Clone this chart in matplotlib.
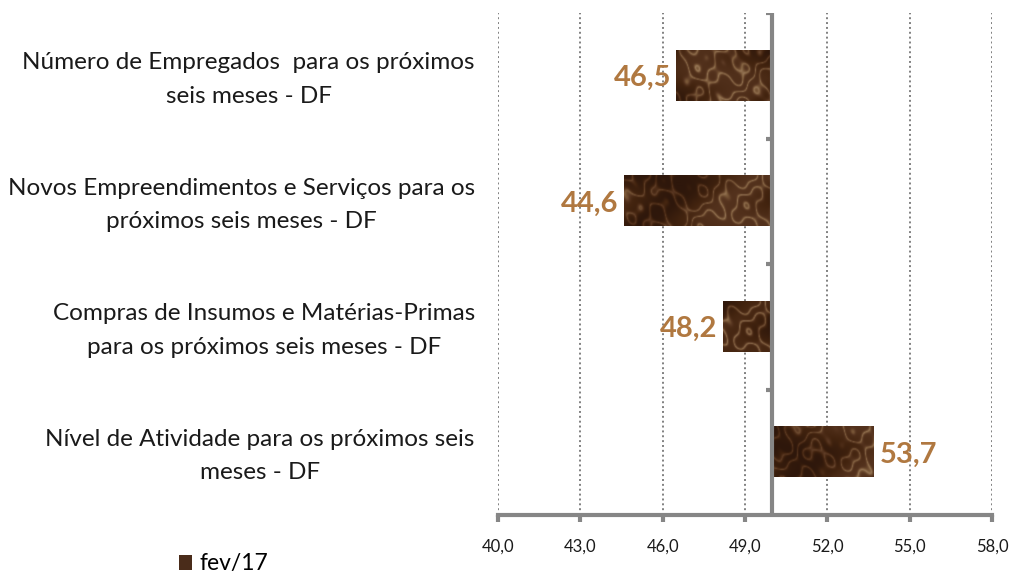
import matplotlib
matplotlib.use("Agg")
import matplotlib.pyplot as plt
import matplotlib.transforms as mtransforms
from matplotlib.patches import Patch
import numpy as np

plt.rcParams['font.family'] = ['Lato', 'DejaVu Sans']

# ---------------- data ----------------
categorias = [
    "Número de Empregados  para os próximos\nseis meses - DF",
    "Novos Empreendimentos e Serviços para os\npróximos seis meses - DF",
    "Compras de Insumos e Matérias-Primas\npara os próximos seis meses - DF",
    "Nível de Atividade para os próximos seis\nmeses - DF",
]
valores = [46.5, 44.6, 48.2, 53.7]
rotulos = ["46,5", "44,6", "48,2", "53,7"]
serie = "fev/17"
base = 50.0
xticks = [40, 43, 46, 49, 52, 55, 58]

cinza = "#868686"
cor_rotulo = "#B07840"
cor_barra = "#4a2c1a"

# textura tipo marmore/madeira (so decoracao, nao e dado)
tx, ty = np.meshgrid(np.linspace(0, 40, 500), np.linspace(0, 4, 50))
turb = (1.5 * np.sin(0.7 * tx + 0.9 * ty) + np.sin(1.3 * tx - 1.1 * ty + 0.5)
        + 0.7 * np.sin(2.3 * tx + 1.7 * ty + 1.2)
        + 0.5 * np.sin(3.7 * tx - 2.9 * ty))
veios = (1 - np.abs(np.sin(0.9 * tx + 0.6 * ty + 1.4 * turb))) ** 2.5
fundo = 0.5 + 0.5 * np.sin(0.45 * tx + 0.8 * np.sin(1.1 * ty + 0.3 * tx))
textura = 0.45 * fundo + 0.55 * veios
textura = (textura - textura.min()) / (textura.max() - textura.min())
cmap_madeira = matplotlib.colors.LinearSegmentedColormap.from_list(
    "madeira", ["#2e170b", "#43240f", "#573520", "#7a5838", "#9c7c5c"])

fig = plt.figure(figsize=(10.13, 5.73), dpi=100)
ax = fig.add_axes([0.4916, 0.1012, 0.4877, 0.876])

ypos = np.arange(len(valores))[::-1]
alt = 0.4
barras = ax.barh(ypos, np.array(valores) - base, left=base, height=alt,
                 color=cor_barra, edgecolor="none", zorder=2)
for i, b in enumerate(barras):
    x0, y0 = b.get_x(), b.get_y()
    w, h = b.get_width(), b.get_height()
    ncol = max(int(abs(w) / 18 * 500), 2)
    off = (i * 97) % (500 - ncol)
    ax.imshow(textura[:, off:off + ncol], cmap=cmap_madeira, aspect="auto",
              zorder=2.5, interpolation="bicubic",
              extent=[min(x0, x0 + w), max(x0, x0 + w), y0, y0 + h])

ax.set_xlim(40, 58)
ax.set_ylim(-0.5, len(valores) - 0.5)

# rotulos de dados
for y, v, r in zip(ypos, valores, rotulos):
    if v < base:
        ax.text(v - 0.2, y - 0.02, r, ha="right", va="center", fontsize=21,
                fontweight="bold", color=cor_rotulo, zorder=4)
    else:
        ax.text(v + 0.2, y - 0.02, r, ha="left", va="center", fontsize=21,
                fontweight="bold", color=cor_rotulo, zorder=4)

# categorias
trans = mtransforms.blended_transform_factory(ax.transAxes, ax.transData)
for y, c in zip(ypos, categorias):
    ax.text(-0.047, y - 0.03, c, transform=trans, ha="right", va="center",
            multialignment="center", fontsize=17.5, linespacing=1.75,
            color="#1a1a1a")

# eixo vertical no 50
ax.axvline(base, color=cinza, lw=3, zorder=3)
for yb in np.arange(len(valores)) + 0.5:
    ax.plot([base - 0.22, base], [yb, yb], color=cinza, lw=3,
            solid_capstyle="butt", zorder=3)

ax.set_yticks([])
ax.set_xticks(xticks)
ax.set_xticklabels([f"{t:.1f}".replace(".", ",") for t in xticks], fontsize=12)
ax.xaxis.grid(True, linestyle=(0, (1, 1.5)), color="#808080", lw=1.4, zorder=0)
ax.set_axisbelow(True)
ax.tick_params(axis="x", direction="out", length=5, width=3, color=cinza,
               pad=12, labelcolor="#1a1a1a")
for s in ["top", "right", "left"]:
    ax.spines[s].set_visible(False)
ax.spines["bottom"].set_color(cinza)
ax.spines["bottom"].set_linewidth(3)

fig.legend(handles=[Patch(facecolor=cor_barra, edgecolor="none", label=serie)],
           loc="center left", bbox_to_anchor=(0.156, 0.016), frameon=False,
           fontsize=16.5, handlelength=0.6, handleheight=0.6, handletextpad=0.3)

fig.savefig("out.png", dpi=100)
